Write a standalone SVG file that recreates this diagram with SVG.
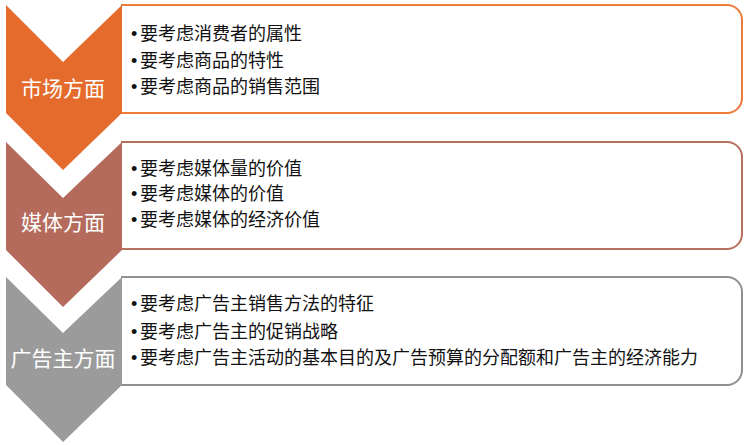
<svg xmlns="http://www.w3.org/2000/svg" width="750" height="445" viewBox="0 0 750 445">
<style>
.box{fill:#fff;stroke-width:2}
.head{font-family:"Noto Sans CJK SC","Liberation Sans",sans-serif;font-size:21px;fill:#fff;text-anchor:middle}
.item{font-family:"Noto Sans CJK SC","Liberation Sans",sans-serif;font-size:18px;fill:#111}
.bul{font-family:"Liberation Sans",sans-serif}
</style>
<rect width="750" height="445" fill="#fff"/>
<g id="node-market">
<path class="box" stroke="#EE7A3A" d="M121,5 H727 A15,15 0 0 1 742,20 V98 A15,15 0 0 1 727,113 H121"/>
<path fill="#E56B2C" d="M6,5 L63,62 L122,5 V113 L63,170 L6,113 Z"/>
<text class="head" x="63" y="96">市场方面</text>
<text class="item"><tspan class="bul" x="131" y="40">•</tspan><tspan x="140" y="40">要考虑消费者的属性</tspan><tspan class="bul" x="131" y="66.5">•</tspan><tspan x="140" y="66.5">要考虑商品的特性</tspan><tspan class="bul" x="131" y="93">•</tspan><tspan x="140" y="93">要考虑商品的销售范围</tspan></text>
</g>
<g id="node-media">
<path class="box" stroke="#B6705F" d="M121,142 H727 A15,15 0 0 1 742,157 V234 A15,15 0 0 1 727,249 H121"/>
<path fill="#B46B5C" d="M6,142 L63,198 L122,142 V250 L63,307 L6,250 Z"/>
<text class="head" x="63" y="230">媒体方面</text>
<text class="item"><tspan class="bul" x="131" y="174.5">•</tspan><tspan x="140" y="174.5">要考虑媒体量的价值</tspan><tspan class="bul" x="131" y="200">•</tspan><tspan x="140" y="200">要考虑媒体的价值</tspan><tspan class="bul" x="131" y="225.5">•</tspan><tspan x="140" y="225.5">要考虑媒体的经济价值</tspan></text>
</g>
<g id="node-advertiser">
<path class="box" stroke="#8F8F8F" d="M121,277 H727 A15,15 0 0 1 742,292 V370 A15,15 0 0 1 727,385 H121"/>
<path fill="#9B9B9B" d="M6,277 L63,333 L122,277 V385 L63,442 L6,385 Z"/>
<text class="head" x="63" y="366">广告主方面</text>
<text class="item"><tspan class="bul" x="131" y="310">•</tspan><tspan x="140" y="310">要考虑广告主销售方法的特征</tspan><tspan class="bul" x="131" y="338">•</tspan><tspan x="140" y="338">要考虑广告主的促销战略</tspan><tspan class="bul" x="131" y="363.5">•</tspan><tspan x="140" y="363.5">要考虑广告主活动的基本目的及广告预算的分配额和广告主的经济能力</tspan></text>
</g>
<g id="connectors"></g>
</svg>
